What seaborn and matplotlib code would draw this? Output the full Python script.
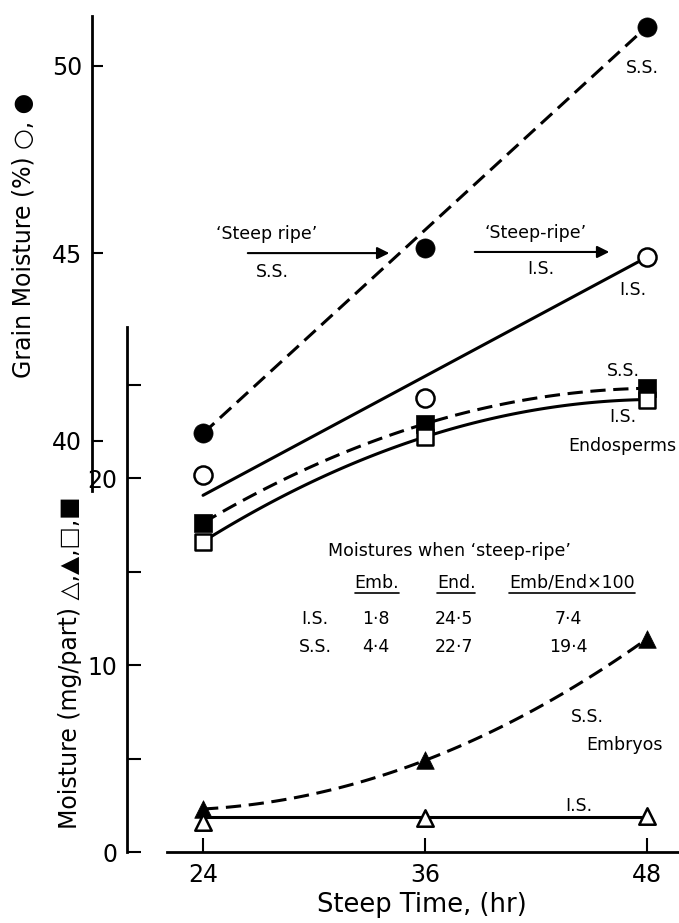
import matplotlib
matplotlib.use('Agg')
import matplotlib.pyplot as plt
import seaborn as sns

# steep time (hr)
steep_time = [24, 36, 48]

# grain moisture (%) -> upper scale
grain_ss = [40.2, 45.15, 51.05]
grain_is = [39.1, 41.15, 44.9]
# the straight grain lines as drawn (ends at 24 and 48 hr)
line_time = [24, 48]
grain_ss_line = [40.2, 51.05]
grain_is_line = [38.55, 44.9]

# moisture (mg/part) -> lower scale
endo_ss = [17.6, 22.9, 24.8]
endo_is = [16.6, 22.2, 24.2]
emb_ss = [2.3, 4.9, 11.4]
emb_is = [1.6, 1.8, 1.9]
emb_is_line = [1.85, 1.85]

# table: moistures when 'steep-ripe'
table_head = ['Emb.', 'End.', 'Emb/End×100']
table_rows = ['I.S.', 'S.S.']
table_emb = ['1·8', '4·4']
table_end = ['24·5', '22·7']
table_ratio = ['7·4', '19·4']

sns.set_theme(style='ticks', rc={
    'axes.edgecolor': 'black', 'text.color': 'black',
    'xtick.color': 'black', 'ytick.color': 'black',
    'axes.labelcolor': 'black',
})
plt.rcParams['font.family'] = ['DejaVu Sans']

fig = plt.figure(figsize=(6.79, 9.23), dpi=100)
rect = [127 / 679, 71 / 923, 552 / 679, 836 / 923]
ax = fig.add_axes(rect)
ax2 = fig.add_axes(rect, sharex=ax)
ax2.patch.set_visible(False)

dash = (0, (5, 2.5))
lw = 2.2

# --- lines ---
sns.lineplot(x=line_time, y=grain_ss_line, color='black', lw=lw, ls=dash, ax=ax2)
sns.lineplot(x=line_time, y=grain_is_line, color='black', lw=lw, ax=ax2)
sns.regplot(x=steep_time, y=endo_ss, order=2, ci=None, scatter=False, color='black',
            line_kws=dict(lw=lw, ls=dash), ax=ax)
sns.regplot(x=steep_time, y=endo_is, order=2, ci=None, scatter=False, color='black',
            line_kws=dict(lw=lw), ax=ax)
sns.regplot(x=steep_time, y=emb_ss, order=2, ci=None, scatter=False, color='black',
            line_kws=dict(lw=lw, ls=dash), ax=ax)
sns.lineplot(x=line_time, y=emb_is_line, color='black', lw=lw, ax=ax)

# --- markers ---
filled = dict(color='black', edgecolor='black', linewidth=0.5, zorder=5, clip_on=False)
hollow = dict(color='white', edgecolor='black', linewidth=1.8, zorder=5, clip_on=False)
sns.scatterplot(x=steep_time, y=grain_ss, marker='o', s=190, ax=ax2, **filled)
sns.scatterplot(x=steep_time, y=grain_is, marker='o', s=170, ax=ax2, **hollow)
sns.scatterplot(x=steep_time, y=endo_ss, marker='s', s=150, ax=ax, **filled)
sns.scatterplot(x=steep_time, y=endo_is, marker='s', s=130, ax=ax, **hollow)
sns.scatterplot(x=steep_time, y=emb_ss, marker='^', s=160, ax=ax, **filled)
sns.scatterplot(x=steep_time, y=emb_is, marker='^', s=140, ax=ax, **hollow)

# --- axes ---
ax.set_xlim(19.89, 49.73)
ax.set_ylim(0, 44.71)
ax2.set_ylim(29.04, 51.33)

for a in (ax, ax2):
    a.spines['top'].set_visible(False)
    a.spines['right'].set_visible(False)
    a.spines['left'].set_linewidth(2)
ax2.spines['bottom'].set_visible(False)
ax.spines['bottom'].set_linewidth(2)
ax.spines['left'].set_bounds(0, 28.07)
ax.spines['bottom'].set_bounds(22.05, 49.73)
ax2.spines['left'].set_bounds(38.67, 51.33)
ax2.spines['left'].set_position(('outward', 25.2))

ax.set_xticks(steep_time)
ax.set_yticks([0, 5, 10, 15, 20, 25])
ax.set_yticklabels(['0', '', '10', '', '20', ''])
ax2.set_yticks([40, 45, 50])
ax.tick_params(axis='both', direction='in', length=10, width=1.5, labelsize=17, pad=7)
ax.tick_params(axis='x', pad=8)
ax2.tick_params(axis='y', direction='in', length=8, width=1.5, labelsize=17, pad=7)
ax2.tick_params(axis='x', bottom=False, labelbottom=False)

ax.set_xlabel('Steep Time, (hr)', fontsize=18.5)
ax.xaxis.set_label_coords(0.534, -0.0635)
ax.xaxis.label.set_va('center')
ax.set_ylabel('Moisture (mg/part) △,▲,□,■', fontsize=17)
ax.yaxis.set_label_coords(-0.103, 0.226)
ax.yaxis.label.set_va('center')
ax2.set_ylabel('Grain Moisture (%) ○, ●', fontsize=17)
ax2.yaxis.set_label_coords(-0.1866, 0.738)
ax2.yaxis.label.set_va('center')

# --- annotations (lower-scale data coordinates) ---
txt = dict(ha='center', va='center', fontsize=12.5)
ax.text(27.46, 33.05, '‘Steep ripe’', **txt)
ax.annotate('', xy=(34.22, 32.03), xytext=(26.27, 32.03),
            arrowprops=dict(arrowstyle='-|>', color='black', lw=1.5, mutation_scale=18))
ax.text(27.73, 31.0, 'S.S.', **txt)
ax.text(42.0, 33.1, '‘Steep-ripe’', **txt)
ax.annotate('', xy=(46.11, 32.09), xytext=(38.54, 32.09),
            arrowprops=dict(arrowstyle='-|>', color='black', lw=1.5, mutation_scale=18))
ax.text(42.27, 31.2, 'I.S.', **txt)

ax.text(47.73, 41.93, 'S.S.', **txt)
ax.text(47.24, 30.05, 'I.S.', **txt)
ax.text(46.7, 25.72, 'S.S.', **txt)
ax.text(46.7, 23.26, 'I.S.', **txt)
ax.text(46.65, 21.71, 'Endosperms', **txt)
ax.text(44.76, 7.22, 'S.S.', **txt)
ax.text(46.81, 5.72, 'Embryos', **txt)
ax.text(44.32, 2.46, 'I.S.', **txt)

# table
ax.text(37.3, 16.1, 'Moistures when ‘steep-ripe’', **txt)
heads = [ax.text(xv, 14.39, h, **txt) for xv, h in zip([33.4, 37.68, 43.95], table_head)]
for i, yv in enumerate([12.46, 10.96]):
    ax.text(30.05, yv, table_rows[i], **txt)
    ax.text(33.35, yv, table_emb[i], **txt)
    ax.text(37.57, yv, table_end[i], **txt)
    ax.text(43.73, yv, table_ratio[i], **txt)

# underline the table headers
fig.canvas.draw()
W, H = fig.bbox.width, fig.bbox.height
for t in heads:
    bb = t.get_window_extent()
    yy = (bb.y0 - 1) / H
    fig.add_artist(plt.Line2D([bb.x0 / W, bb.x1 / W], [yy, yy],
                              transform=fig.transFigure, color='black', lw=1.2))

fig.savefig('out.png', dpi=100)
